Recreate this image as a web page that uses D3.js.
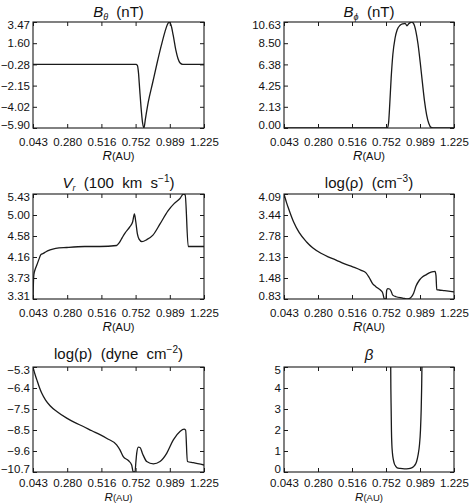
<!DOCTYPE html>
<html><head><meta charset="utf-8">
<script src="https://cdn.jsdelivr.net/npm/d3@7"></script>
<style>
body{margin:0;background:#fff}
svg text{font-family:"Liberation Sans",Arial,Helvetica,sans-serif;fill:#111;white-space:pre}
</style></head><body>
<svg id="c" width="473" height="503"></svg>
<script>
// ---------- data ----------
const xDomain = [0.043, 1.225];
const xTickLabels = ["0.043","0.280","0.516","0.752","0.989","1.225"];

const bThetaTickLabels = ["−5.90","−4.02","−2.15","−0.28","1.60","3.47"];
const bPhiTickLabels   = ["0.00","2.13","4.25","6.38","8.50","10.63"];
const vrTickLabels     = ["3.31","3.73","4.16","4.58","5.00","5.43"];
const rhoTickLabels    = ["0.83","1.48","2.13","2.78","3.44","4.09"];
const pTickLabels      = ["−10.7","−9.6","−8.5","−7.5","−6.4","−5.3"];
const betaTickLabels   = ["0","1","2","3","4","5"];

const bThetaDomain = [-5.90, 3.47];
const bPhiDomain   = [0, 10.63];
const vrDomain     = [3.31, 5.43];
const rhoDomain    = [0.83, 4.09];
const pDomain      = [-10.7, -5.3];
const betaDomain   = [0, 5];

const bTheta = [[0.043,-0.28],[0.755,-0.28],[0.765,-0.38],[0.772,-1.0],[0.78,-2.4],[0.79,-4.1],[0.80,-5.4],[0.81,-5.90],[0.82,-5.1],[0.84,-3.6],[0.87,-1.9],[0.90,-0.2],[0.93,1.4],[0.955,2.6],[0.972,3.25],[0.985,3.47],[0.997,3.2],[1.012,2.3],[1.03,1.0],[1.045,0.25],[1.06,-0.15],[1.078,-0.27],[1.225,-0.28]];

const bPhi = [[0.043,0],[0.762,0],[0.770,0.5],[0.778,2.3],[0.788,5.0],[0.80,7.4],[0.815,9.0],[0.83,9.85],[0.85,10.3],[0.87,10.45],[0.885,10.5],[0.898,10.25],[0.91,10.45],[0.93,10.63],[0.945,10.45],[0.96,9.7],[0.975,8.4],[0.99,6.6],[1.005,4.6],[1.02,2.7],[1.035,1.3],[1.05,0.45],[1.065,0.06],[1.078,0],[1.225,0]];

const vr = [[0.043,3.31],[0.045,3.55],[0.049,3.8],[0.057,3.90],[0.07,4.0],[0.085,4.12],[0.098,4.21],[0.114,4.23],[0.13,4.26],[0.161,4.30],[0.2,4.33],[0.276,4.35],[0.4,4.37],[0.506,4.37],[0.621,4.39],[0.64,4.45],[0.66,4.55],[0.679,4.64],[0.713,4.77],[0.732,4.87],[0.744,5.03],[0.752,4.90],[0.765,4.62],[0.776,4.52],[0.796,4.47],[0.83,4.51],[0.872,4.60],[0.92,4.82],[0.976,5.09],[1.02,5.24],[1.059,5.34],[1.083,5.43],[1.095,5.41],[1.116,4.37],[1.225,4.37]];

const rho = [[0.043,4.09],[0.05,3.98],[0.06,3.83],[0.08,3.57],[0.11,3.22],[0.149,2.89],[0.2,2.60],[0.242,2.42],[0.3,2.25],[0.35,2.14],[0.405,2.04],[0.46,1.93],[0.521,1.83],[0.58,1.72],[0.613,1.64],[0.636,1.49],[0.66,1.30],[0.68,1.22],[0.694,1.17],[0.715,1.10],[0.729,1.02],[0.741,0.83],[0.752,0.83],[0.757,1.10],[0.765,1.15],[0.777,1.14],[0.787,1.08],[0.799,0.95],[0.822,0.90],[0.868,0.86],[0.903,0.83],[0.926,0.88],[0.945,1.02],[0.961,1.23],[0.985,1.42],[1.007,1.52],[1.03,1.58],[1.053,1.64],[1.08,1.68],[1.093,1.69],[1.1,1.55],[1.105,1.12],[1.12,1.11],[1.16,1.09],[1.225,1.05]];

const pLog = [[0.043,-5.3],[0.05,-5.5],[0.06,-5.75],[0.069,-5.95],[0.085,-6.3],[0.103,-6.64],[0.13,-7.0],[0.161,-7.29],[0.21,-7.6],[0.276,-7.93],[0.33,-8.15],[0.391,-8.36],[0.45,-8.58],[0.506,-8.78],[0.56,-9.0],[0.621,-9.3],[0.644,-9.56],[0.667,-9.91],[0.702,-10.11],[0.725,-10.34],[0.736,-10.7],[0.748,-10.7],[0.754,-10.2],[0.76,-9.73],[0.771,-9.42],[0.783,-9.44],[0.801,-9.77],[0.829,-10.16],[0.875,-10.28],[0.921,-10.16],[0.967,-9.74],[1.013,-9.05],[1.059,-8.62],[1.087,-8.5],[1.098,-8.55],[1.11,-10.16],[1.151,-10.22],[1.225,-10.34]];

const beta = [[0.784,6],[0.786,4],[0.788,3],[0.790,2],[0.793,1.3],[0.797,0.9],[0.803,0.6],[0.81,0.4],[0.82,0.27],[0.83,0.2],[0.85,0.17],[0.88,0.15],[0.91,0.16],[0.93,0.2],[0.95,0.3],[0.965,0.5],[0.975,0.8],[0.985,1.3],[0.992,2],[0.997,3],[1.0,4],[1.002,5],[1.003,6]];

// title pieces: [text, style] style: i=italic, s=subscript, p=superscript
const titles = [
  [["B","i"],["θ","is"],["  (nT)",""]],
  [["B","i"],["ϕ","is"],["  (nT)",""]],
  [["V","i"],["r","is"],["  (100  km  s",""],["−1","p"],[")",""]],
  [["log(ρ)  (cm",""],["−3","p"],[")",""]],
  [["log(p)  (dyne  cm",""],["−2","p"],[")",""]],
  [["β","i"]]
];

// ---------- layout ----------
const cols = [[33,204],[284,454]];
const rows = [[22,128],[194,299],[367,472]];
const titleBase = [17,17,188,188,359,360];
const xLabelBase = [160,160,331,331,500.5,500.5];
const xLabelSize = [13,13,13,13,11.5,11.5];
const xTickPad = [9.5,9.5,9.5,9.5,7,7];

const panels = [
  {data:bTheta, dom:bThetaDomain, labels:bThetaTickLabels},
  {data:bPhi,   dom:bPhiDomain,   labels:bPhiTickLabels},
  {data:vr,     dom:vrDomain,     labels:vrTickLabels},
  {data:rho,    dom:rhoDomain,    labels:rhoTickLabels},
  {data:pLog,   dom:pDomain,      labels:pTickLabels},
  {data:beta,   dom:betaDomain,   labels:betaTickLabels}
];

const svg = d3.select("#c");
const ink = "#1a1a1a";

panels.forEach((p, k) => {
  const [x0,x1] = cols[k%2];
  const [y0,y1] = rows[Math.floor(k/2)];
  const x = d3.scaleLinear().domain(xDomain).range([x0,x1]);
  const y = d3.scaleLinear().domain(p.dom).range([y1,y0]);
  const xt = d3.range(6).map(i => xDomain[0] + i*(xDomain[1]-xDomain[0])/5);
  const yt = d3.range(6).map(i => p.dom[0] + i*(p.dom[1]-p.dom[0])/5);

  const g = svg.append("g");
  const clipId = "clip"+k;
  svg.append("clipPath").attr("id",clipId).append("rect")
    .attr("x",x0).attr("y",y0).attr("width",x1-x0).attr("height",y1-y0);

  // axes
  const bottom = g.append("g").attr("transform",`translate(0,${y1})`)
    .call(d3.axisBottom(x).tickValues(xt).tickFormat((d,i)=>xTickLabels[i]).tickSize(-4).tickPadding(xTickPad[k]));
  const top = g.append("g").attr("transform",`translate(0,${y0})`)
    .call(d3.axisTop(x).tickValues(xt).tickFormat("").tickSize(-4));
  const left = g.append("g").attr("transform",`translate(${x0},0)`)
    .call(d3.axisLeft(y).tickValues(yt).tickFormat((d,i)=>p.labels[i]).tickSize(-4).tickPadding(3));
  const right = g.append("g").attr("transform",`translate(${x1},0)`)
    .call(d3.axisRight(y).tickValues(yt).tickFormat("").tickSize(-4));
  [bottom,top,left,right].forEach(a=>{
    a.select(".domain").remove();
    a.selectAll("line").attr("stroke",ink).attr("stroke-width",1);
    a.selectAll("text").attr("font-size",11.5).attr("fill",ink)
      .style("font-family",'"Liberation Sans",Arial,sans-serif');
  });
  left.selectAll("text").attr("dy",(d,i)=> i===0 ? "0.05em" : (i===5 ? "0.6em" : "0.32em"));

  g.append("rect").attr("x",x0).attr("y",y0).attr("width",x1-x0).attr("height",y1-y0)
    .attr("fill","none").attr("stroke",ink).attr("stroke-width",1.1);

  // line
  const line = d3.line().x(d=>x(d[0])).y(d=>y(d[1])).curve(d3.curveMonotoneX);
  g.append("path").datum(p.data).attr("d",line)
    .attr("clip-path",`url(#${clipId})`)
    .attr("fill","none").attr("stroke",ink).attr("stroke-width",1.3);

  // x label
  const xl = g.append("text").attr("x",(x0+x1)/2).attr("y",xLabelBase[k]).attr("text-anchor","middle");
  xl.append("tspan").text("R").attr("font-size",xLabelSize[k]).attr("font-style","italic");
  xl.append("tspan").text("(AU)").attr("font-size",xLabelSize[k]-2);

  // title
  const tt = g.append("text").attr("x",(x0+x1)/2).attr("y",titleBase[k]).attr("text-anchor","middle").attr("font-size",15);
  let shift = 0;
  titles[k].forEach(([t,s])=>{
    const ts = tt.append("tspan").text(t);
    let target = 0;
    if (s.includes("i")) ts.attr("font-style","italic");
    if (s.includes("s")) { ts.attr("font-size",9); target = 3; }
    if (s.includes("p")) { ts.attr("font-size",10); target = -6; }
    ts.attr("dy", target - shift);
    shift = target;
  });
});
</script>
</body></html>
